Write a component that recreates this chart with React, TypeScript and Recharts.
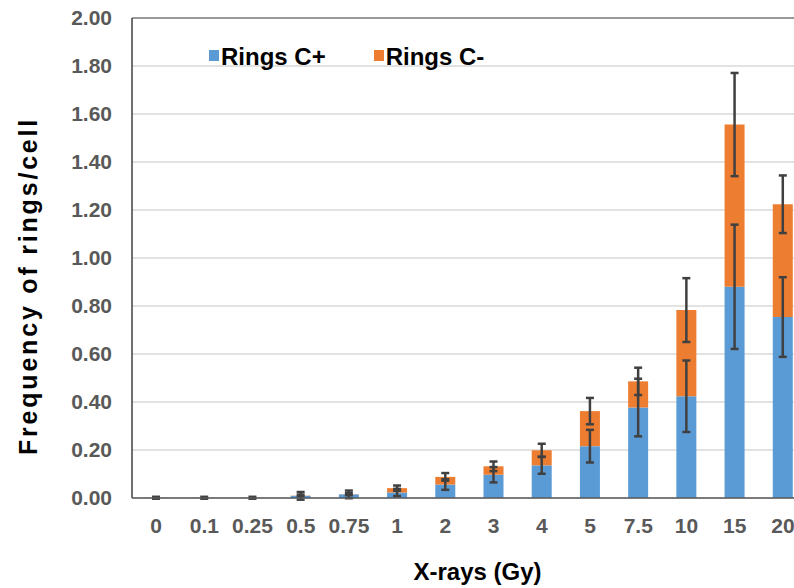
import {
  ComposedChart,
  Bar,
  ErrorBar,
  XAxis,
  YAxis,
  CartesianGrid,
  Legend,
  ReferenceLine,
} from "recharts";

const doses = ["0", "0.1", "0.25", "0.5", "0.75", "1", "2", "3", "4", "5", "7.5", "10", "15", "20"];
const ringsCPlus = [0.001, 0.001, 0.001, 0.009, 0.015, 0.023, 0.056, 0.097, 0.136, 0.216, 0.377, 0.424, 0.88, 0.754];
const ringsCMinus = [0, 0, 0, 0.001, 0.001, 0.018, 0.032, 0.035, 0.063, 0.146, 0.109, 0.359, 0.676, 0.47];
const errCPlus = [0.004, 0.004, 0.004, 0.016, 0.016, 0.015, 0.022, 0.032, 0.035, 0.068, 0.12, 0.149, 0.259, 0.166];
const errCMinus = [0, 0, 0, 0.004, 0.004, 0.011, 0.016, 0.02, 0.027, 0.055, 0.057, 0.133, 0.215, 0.12];
const yTicks = [0, 0.2, 0.4, 0.6, 0.8, 1.0, 1.2, 1.4, 1.6, 1.8, 2.0];

const data = doses.map((dose, i) => ({
  dose,
  cplus: ringsCPlus[i],
  cminus: ringsCMinus[i],
  errPlus: errCPlus[i],
  errMinus: errCMinus[i],
}));

const font = "'Liberation Sans', Arial, sans-serif";
const BLUE = "#5B9BD5";
const ORANGE = "#ED7D31";

function LegendContent({ payload }: any) {
  return (
    <div style={{ display: "flex", gap: 48, fontFamily: font }}>
      {(payload || []).map((entry: any) => (
        <div key={entry.value} style={{ display: "flex", alignItems: "center" }}>
          <span
            style={{
              width: 10,
              height: 11,
              background: entry.color,
              display: "inline-block",
              marginRight: 2,
              marginTop: -3,
            }}
          />
          <span style={{ fontSize: 24, fontWeight: "bold", color: "#000" }}>
            {entry.value}
          </span>
        </div>
      ))}
    </div>
  );
}

export default function App() {
  return (
    <div
      style={{
        position: "fixed",
        left: 0,
        top: 0,
        width: 794,
        height: 588,
        overflow: "hidden",
        background: "#fff",
      }}
    >
      <ComposedChart
        width={812}
        height={588}
        data={data}
        margin={{ top: 18, right: 5, bottom: 0, left: 0 }}
        barSize={20}
      >
        <CartesianGrid vertical={false} stroke="#d9d9d9" strokeWidth={1.5} />
        <XAxis
          dataKey="dose"
          height={90}
          tickLine={false}
          tickSize={0}
          tickMargin={20}
          stroke="#595959"
          strokeWidth={1.5}
          tick={{ fill: "#595959", fontSize: 21, fontWeight: "bold", fontFamily: font }}
          label={{
            value: "X-rays (Gy)",
            position: "insideBottom",
            offset: 8,
            dx: 8,
            style: { fontSize: 24, fontWeight: "bold", fill: "#000", fontFamily: font },
          }}
        />
        <YAxis
          width={132}
          domain={[0, 2]}
          ticks={yTicks}
          allowDataOverflow
          tickFormatter={(v: number) => v.toFixed(2)}
          tickLine={false}
          tickSize={0}
          tickMargin={20}
          stroke="#404040"
          strokeWidth={1.5}
          tick={{ fill: "#595959", fontSize: 21, fontWeight: "bold", fontFamily: font }}
          label={{
            value: "Frequency of rings/cell",
            angle: -90,
            position: "insideLeft",
            offset: 28,
            dy: 28,
            style: {
              textAnchor: "middle",
              fontSize: 25,
              fontWeight: "bold",
              fill: "#000",
              fontFamily: font,
              letterSpacing: 2.8,
            },
          }}
        />
        <ReferenceLine y={2} stroke="#808080" strokeWidth={1.5} />
        <Legend
          layout="horizontal"
          verticalAlign="middle"
          align="center"
          content={<LegendContent />}
          wrapperStyle={{ top: 43, left: 209, width: "auto" }}
        />
        <Bar dataKey="cplus" name="Rings C+" stackId="a" fill={BLUE} isAnimationActive={false}>
          <ErrorBar dataKey="errPlus" width={4} stroke="#404040" strokeWidth={2.5} isAnimationActive={false} />
        </Bar>
        <Bar dataKey="cminus" name="Rings C-" stackId="a" fill={ORANGE} isAnimationActive={false}>
          <ErrorBar dataKey="errMinus" width={4} stroke="#404040" strokeWidth={2.5} isAnimationActive={false} />
        </Bar>
      </ComposedChart>
    </div>
  );
}
